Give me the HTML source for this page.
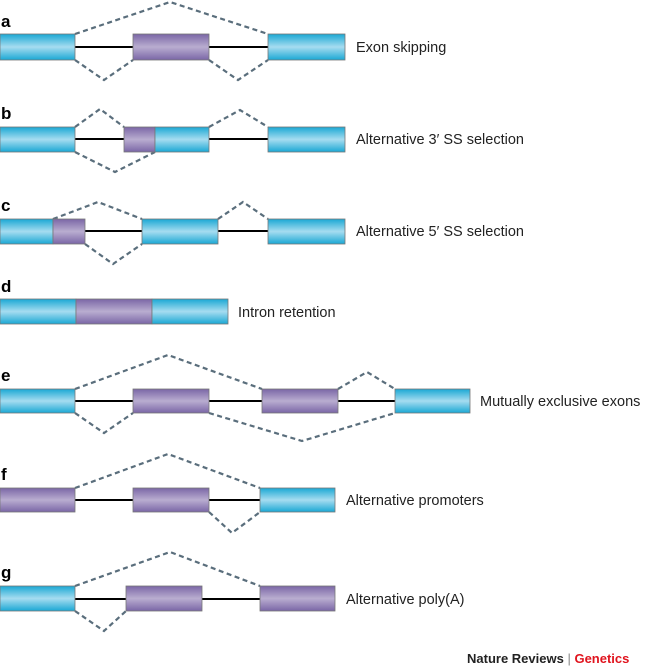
<!DOCTYPE html>
<html><head><meta charset="utf-8"><style>
html,body{margin:0;padding:0;background:#fff;width:650px;height:669px;overflow:hidden}
svg text{font-family:"Liberation Sans",sans-serif}
</style></head><body>
<svg width="650" height="669" viewBox="0 0 650 669" xmlns="http://www.w3.org/2000/svg">
<defs>
<linearGradient id="bl" x1="0" y1="0" x2="0" y2="1">
<stop offset="0" stop-color="#1aa8d4"/><stop offset="0.5" stop-color="#a6dcf0"/><stop offset="1" stop-color="#1aa8d4"/>
</linearGradient>
<linearGradient id="pu" x1="0" y1="0" x2="0" y2="1">
<stop offset="0" stop-color="#7a66a6"/><stop offset="0.5" stop-color="#b9add0"/><stop offset="1" stop-color="#7a66a6"/>
</linearGradient>
</defs>
<g stroke="#000" stroke-width="2">
<line x1="75" y1="47" x2="268" y2="47"/>
<line x1="75" y1="139" x2="268" y2="139"/>
<line x1="85" y1="231" x2="268" y2="231"/>
<line x1="75" y1="401" x2="395" y2="401"/>
<line x1="75" y1="500" x2="260" y2="500"/>
<line x1="75" y1="599" x2="260" y2="599"/>
</g>
<g fill="none" stroke="#5a6e7c" stroke-width="2.2" stroke-dasharray="5 3.5">
<polyline points="75,34 170,2 268,34"/>
<polyline points="75,60 104,80 133,60"/><polyline points="209,60 238,80 268,60"/>
<polyline points="75,127 100,109 124,127"/><polyline points="209,127 240,110 268,127"/>
<polyline points="75,152 115,172 155,152"/>
<polyline points="53,219 98,202 142,219"/><polyline points="218,219 243,202 268,219"/>
<polyline points="85,244 113,264 142,244"/>
<polyline points="75,389 168,355 262,389"/><polyline points="338,389 367,372 395,389"/>
<polyline points="75,413 104,433 133,413"/><polyline points="209,413 302,441 395,413"/>
<polyline points="75,488 168,454 260,488"/>
<polyline points="209,512 232,533 260,512"/>
<polyline points="75,586 170,552 260,586"/>
<polyline points="75,611 104,631 126,611"/>
</g>
<g stroke="#777" stroke-width="0.8">
<rect x="0" y="34" width="75" height="26" fill="url(#bl)"/>
<rect x="133" y="34" width="76" height="26" fill="url(#pu)"/>
<rect x="268" y="34" width="77" height="26" fill="url(#bl)"/>

<rect x="0" y="127" width="75" height="25" fill="url(#bl)"/>
<rect x="124" y="127" width="31" height="25" fill="url(#pu)"/>
<rect x="155" y="127" width="54" height="25" fill="url(#bl)"/>
<rect x="268" y="127" width="77" height="25" fill="url(#bl)"/>

<rect x="0" y="219" width="53" height="25" fill="url(#bl)"/>
<rect x="53" y="219" width="32" height="25" fill="url(#pu)"/>
<rect x="142" y="219" width="76" height="25" fill="url(#bl)"/>
<rect x="268" y="219" width="77" height="25" fill="url(#bl)"/>

<rect x="0" y="299" width="76" height="25" fill="url(#bl)"/>
<rect x="76" y="299" width="76" height="25" fill="url(#pu)"/>
<rect x="152" y="299" width="76" height="25" fill="url(#bl)"/>

<rect x="0" y="389" width="75" height="24" fill="url(#bl)"/>
<rect x="133" y="389" width="76" height="24" fill="url(#pu)"/>
<rect x="262" y="389" width="76" height="24" fill="url(#pu)"/>
<rect x="395" y="389" width="75" height="24" fill="url(#bl)"/>

<rect x="0" y="488" width="75" height="24" fill="url(#pu)"/>
<rect x="133" y="488" width="76" height="24" fill="url(#pu)"/>
<rect x="260" y="488" width="75" height="24" fill="url(#bl)"/>

<rect x="0" y="586" width="75" height="25" fill="url(#bl)"/>
<rect x="126" y="586" width="76" height="25" fill="url(#pu)"/>
<rect x="260" y="586" width="75" height="25" fill="url(#pu)"/>
</g>
<g font-weight="bold" font-size="17" fill="#000">
<text x="1" y="27">a</text><text x="1" y="119">b</text><text x="1" y="211">c</text>
<text x="1" y="292">d</text><text x="1" y="381">e</text><text x="1" y="480">f</text><text x="1" y="578">g</text>
</g>
<g font-size="14.5" fill="#222">
<text x="356" y="52">Exon skipping</text>
<text x="356" y="144">Alternative 3′ SS selection</text>
<text x="356" y="236">Alternative 5′ SS selection</text>
<text x="238" y="317">Intron retention</text>
<text x="480" y="406">Mutually exclusive exons</text>
<text x="346" y="505">Alternative promoters</text>
<text x="346" y="604">Alternative poly(A)</text>
</g>
<text x="467" y="663" font-size="13" font-weight="bold" fill="#222">Nature Reviews <tspan font-weight="normal" fill="#888">|</tspan> <tspan fill="#e0141e">Genetics</tspan></text>
</svg>
</body></html>
